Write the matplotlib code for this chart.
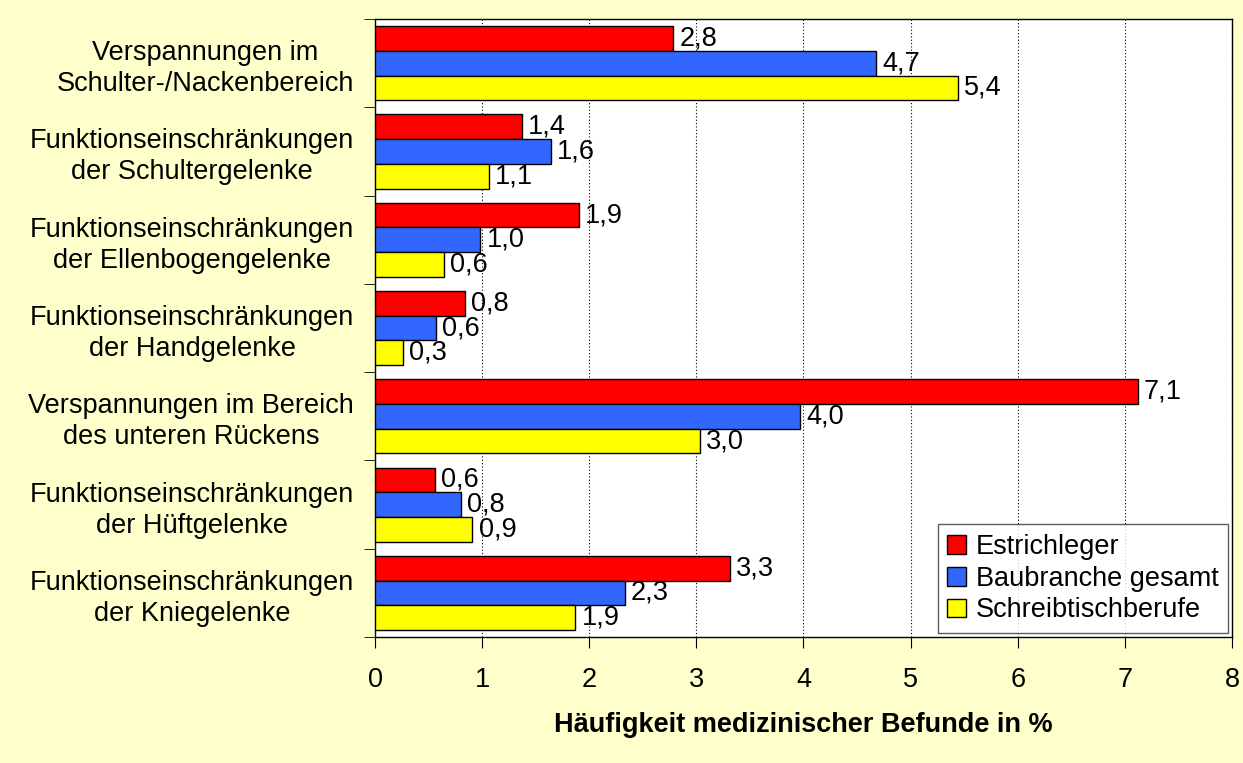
import matplotlib.pyplot as plt
import numpy as np

plt.rcParams['font.family'] = ['Liberation Sans', 'DejaVu Sans']

categories = [
    "Verspannungen im\nSchulter-/Nackenbereich",
    "Funktionseinschränkungen\nder Schultergelenke",
    "Funktionseinschränkungen\nder Ellenbogengelenke",
    "Funktionseinschränkungen\nder Handgelenke",
    "Verspannungen im Bereich\ndes unteren Rückens",
    "Funktionseinschränkungen\nder Hüftgelenke",
    "Funktionseinschränkungen\nder Kniegelenke",
]
series = ["Estrichleger", "Baubranche gesamt", "Schreibtischberufe"]
estrichleger = [2.78, 1.37, 1.90, 0.84, 7.12, 0.56, 3.31]
baubranche = [4.68, 1.64, 0.98, 0.57, 3.97, 0.80, 2.33]
schreibtisch = [5.44, 1.06, 0.64, 0.26, 3.03, 0.91, 1.87]
colors = ['#FF0000', '#3366FF', '#FFFF00']

bg = '#FFFFCC'
fs = 19.5
fig = plt.figure(figsize=(12.43, 7.63), dpi=100, facecolor=bg)
ax = fig.add_axes([0.3017, 0.1651, 0.9911 - 0.3017, 0.9751 - 0.1651])
ax.set_facecolor('white')

h = 0.28
offsets = [-h, 0, h]
y = np.arange(len(categories))
for vals, off, col, name in zip([estrichleger, baubranche, schreibtisch], offsets, colors, series):
    bars = ax.barh(y + off, vals, height=h, color=col, edgecolor='black', linewidth=1.0, label=name, zorder=3)
    for b, v in zip(bars, vals):
        ax.text(v + 0.06, b.get_y() + b.get_height() / 2, f"{v:.1f}".replace('.', ','),
                va='center', ha='left', fontsize=fs, zorder=4)

ax.set_ylim(len(categories) - 0.5, -0.5)
ax.set_xlim(0, 8)
ax.set_xticks(range(9))
ax.tick_params(axis='x', labelsize=fs, length=8, direction='out', pad=13.5)
ax.set_yticks(y)
ax.set_yticklabels(categories, fontsize=fs, multialignment='center', linespacing=1.25)
ax.set_yticks(np.arange(len(categories) + 1) - 0.5, minor=True)
ax.tick_params(axis='y', which='major', length=0, pad=15)
ax.tick_params(axis='y', which='minor', length=8, direction='out')
ax.grid(axis='x', color='black', linestyle=(0, (1, 2)), linewidth=0.8, zorder=1)

for s in ax.spines.values():
    s.set_linewidth(1.0)
    s.set_color('black')

ax.set_xlabel("Häufigkeit medizinischer Befunde in %", fontsize=fs, fontweight='bold', labelpad=14)

leg = ax.legend(loc='lower right', fontsize=fs, frameon=True, fancybox=False, edgecolor='#333333',
                handlelength=0.7, handleheight=0.7, handletextpad=0.35, borderpad=0.35,
                labelspacing=0.22, borderaxespad=0.15)
leg.get_frame().set_linewidth(1.0)

fig.savefig('out.png', dpi=100, facecolor=bg)
